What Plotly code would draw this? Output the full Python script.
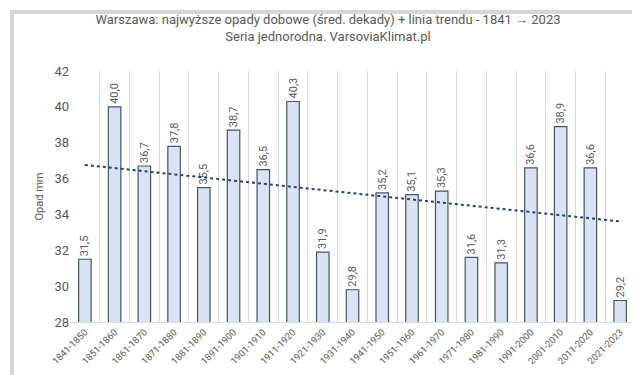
import numpy as np
import plotly.graph_objects as go

decades = ["1841-1850","1851-1860","1861-1870","1871-1880","1881-1890","1891-1900",
           "1901-1910","1911-1920","1921-1930","1931-1940","1941-1950","1951-1960",
           "1961-1970","1971-1980","1981-1990","1991-2000","2001-2010","2011-2020","2021-2023"]
values = [31.5,40.0,36.7,37.8,35.5,38.7,36.5,40.3,31.9,29.8,35.2,35.1,35.3,31.6,31.3,36.6,38.9,36.6,29.2]
y_ticks = [28,30,32,34,36,38,40,42]

idx = np.arange(len(values))
slope, intercept = np.polyfit(idx, values, 1)
trend = intercept + slope * idx

W, H = 640, 375
ml, mr, mt, mb = 62, 13, 63, 61
pw, ph = W - ml - mr, H - mt - mb

fig = go.Figure()
fig.add_trace(go.Bar(
    x=decades, y=values,
    marker=dict(color="#dae3f3", line=dict(color="#44546a", width=1.2)),
    text=[f"{v:.1f}".replace(".", ",") for v in values],
    textposition="outside", textangle=-90, constraintext="none",
    textfont=dict(size=11, color="#595959"),
    cliponaxis=False,
))
fig.add_trace(go.Scatter(
    x=decades, y=trend, mode="lines",
    line=dict(color="#2a4274", width=2, dash="dot"),
    hoverinfo="skip",
))

# grey frame around the chart
bw = 4
fig.add_annotation(
    text=" ", showarrow=False,
    xref="paper", yref="paper",
    x=(W / 2 - ml) / pw, y=(mt + ph - H / 2) / ph,
    xanchor="center", yanchor="middle",
    width=W - 2 * bw - 4, height=H - 2 * bw - 4,
    borderwidth=bw, borderpad=0, bordercolor="#d6d6d6",
    bgcolor="rgba(0,0,0,0)",
)

fig.update_layout(
    width=W, height=H,
    margin=dict(l=ml, r=mr, t=mt, b=mb),
    paper_bgcolor="white", plot_bgcolor="white",
    showlegend=False, bargap=0.58,
    separators=", ",
    font=dict(family="Roboto, Arial, sans-serif", color="#595959"),
    title=dict(
        text="Warszawa: najwyższe opady dobowe (śred. dekady) + linia trendu - 1841 → 2023<br>Seria jednorodna. VarsoviaKlimat.pl",
        x=0.5, xanchor="center", y=0.957, yanchor="top",
        font=dict(size=13, color="#595959"),
    ),
    xaxis=dict(
        type="category", tickson="boundaries",
        showgrid=True, gridcolor="#d9d9d9", gridwidth=1,
        showline=True, linecolor="#d9d9d9",
        ticks="", tickangle=-45, tickfont=dict(size=9.5, color="#595959"),
        range=[-0.5, len(values) - 0.5],
    ),
    yaxis=dict(
        range=[28, 42], tickvals=y_ticks, showgrid=False, zeroline=False,
        tickfont=dict(size=13, color="#595959"),
        title=dict(text="Opad mm", font=dict(size=11, color="#595959"), standoff=8),
    ),
)

fig.write_html("out.html")
